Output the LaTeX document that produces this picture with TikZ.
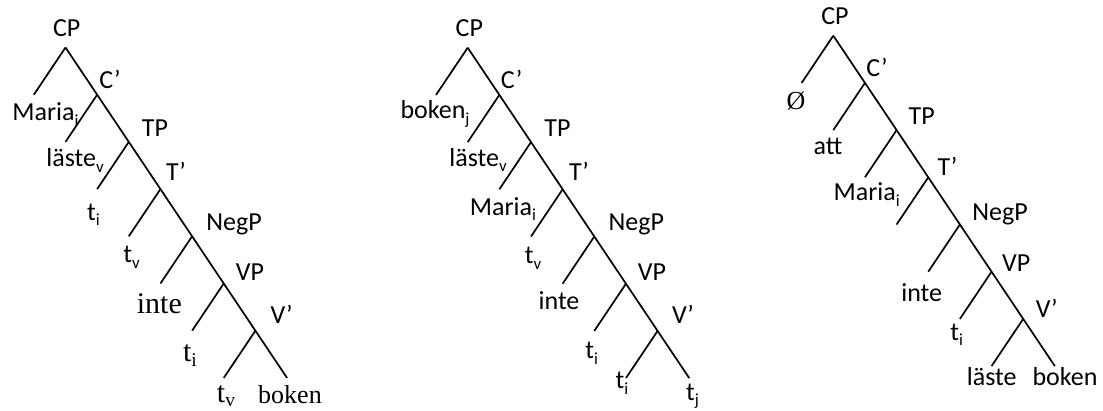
\documentclass[tikz,border=0pt]{standalone}
\usepackage{fontspec}
\setmainfont{Carlito}
\newfontfamily\tnr{Liberation Serif}
\newcommand\lo[1]{\raisebox{-0.22em}{\scalebox{0.65}{#1}}}
\newcommand\los[1]{\raisebox{-0.15em}{\scalebox{0.65}{#1}}}
\begin{document}
\begin{tikzpicture}[x=1pt,y=-1pt,
  branch/.style={line width=1.7pt},
  lab/.style={anchor=base, inner sep=0pt, font=\fontsize{26}{30}\selectfont},
  ser/.style={anchor=base, inner sep=0pt, font=\fontsize{30}{34}\selectfont\tnr},
  sersm/.style={anchor=base, inner sep=0pt, font=\fontsize{26}{30}\selectfont\tnr}]
\useasboundingbox (0,0) rectangle (1103,410);
% skeletons
\foreach \t/\ax/\ay in {a/65.5/47.5, b/467.7/47.7, c/833.3/35.7} {
  \foreach \k in {0,...,6} {
    \coordinate (\t n\k) at ({\ax+31.65*\k},{\ay+47.2*\k});
    \coordinate (\t l\k) at ({\ax+31.65*(\k-1)},{\ay+47.2*(\k+1)});
  }
  \coordinate (\t e) at ({\ax+31.65*7},{\ay+47.2*7});
  \draw[branch] (\t n0) -- (\t e);
  \foreach \k in {0,...,6} \draw[branch] (\t n\k) -- (\t l\k);
}
% tree 1
\node[lab] (aCP) at (66.7,36.7) {CP};
\node[lab] (aCb) at (110,88.3) {C’};
\node[lab] (aMaria) at (45.5,120.7) {Maria\lo{i}};
\node[lab] (aTP) at (155,136.7) {TP};
\node[lab] (alaste) at (75,166.7) {läste\lo{v}};
\node[lab] (aTb) at (176,180) {T’};
\node[lab] (ati) at (93.5,220) {t\lo{i}};
\node[lab] (aNegP) at (234,230.7) {NegP};
\node[lab] (atv) at (131.5,262.7) {t\lo{v}};
\node[lab] (aVP) at (250,280) {VP};
\node[ser] (ainte) at (159.4,313.3) {inte};
\node[ser] (ati2) at (190,361.7) {t\los{i}};
\node[lab] (aVb) at (281.7,323.3) {V’};
\node[ser] (atv2) at (226,402) {t\los{v}};
\node[sersm] (aboken) at (290,403) {boken};
% tree 2
\node[lab] (bCP) at (469.3,36.7) {CP};
\node[lab] (bCb) at (511.7,88.3) {C’};
\node[lab] (bboken) at (435,118.3) {boken\lo{j}};
\node[lab] (bTP) at (557.5,136.7) {TP};
\node[lab] (blaste) at (478,166) {läste\lo{v}};
\node[lab] (bTb) at (579,180) {T’};
\node[lab] (bMaria) at (503,215) {Maria\lo{i}};
\node[lab] (bNegP) at (636.2,230.7) {NegP};
\node[lab] (btv) at (533,263.3) {t\lo{v}};
\node[lab] (bVP) at (652,280) {VP};
\node[lab] (binte) at (559,309.3) {inte};
\node[lab] (bti) at (591.7,358.3) {t\lo{i}};
\node[lab] (bVb) at (683,323.3) {V’};
\node[lab] (bti2) at (622,388.3) {t\lo{i}};
\node[lab] (btj) at (692.5,400) {t\lo{j}};
% tree 3
\node[lab] (cCP) at (835,24) {CP};
\node[lab] (cCb) at (877,76) {C’};
\node[sersm] (cnull) at (796,109.3) {Ø};
\node[lab] (cTP) at (921.7,124) {TP};
\node[lab] (catt) at (828,154) {att};
\node[lab] (cTb) at (947.5,175) {T’};
\node[lab] (cMaria) at (866.7,200.7) {Maria\lo{i}};
\node[lab] (cNegP) at (1000,220.7) {NegP};
\node[lab] (cVP) at (1016.3,271.7) {VP};
\node[lab] (cinte) at (921.7,301.7) {inte};
\node[lab] (cVb) at (1046.7,317.3) {V’};
\node[lab] (cti) at (956.7,340) {t\lo{i}};
\node[lab] (claste) at (991.7,385) {läste};
\node[lab] (cboken) at (1065,385) {boken};
\end{tikzpicture}
\end{document}
